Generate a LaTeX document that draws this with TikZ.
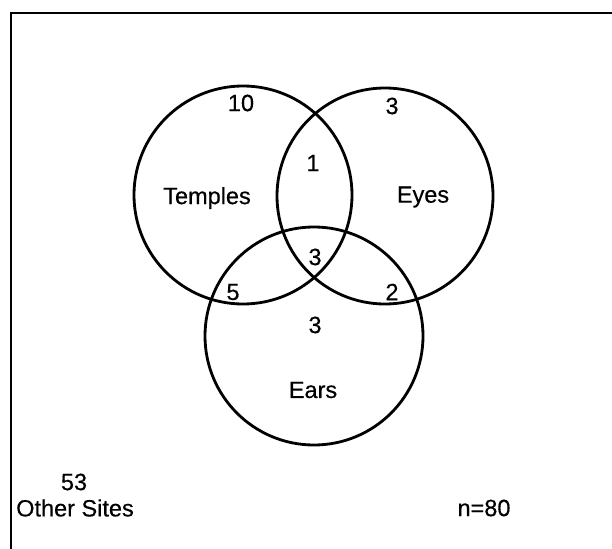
\documentclass[tikz,border=0pt]{standalone}
\usepackage{fontspec}
\setmainfont{Liberation Sans}[FakeBold=0.4]
\usepackage{tikz}
\tikzset{every node/.append style={font=\fontsize{23.5}{27}\selectfont}}

\begin{document}
\begin{tikzpicture}[x=1pt, y=-1pt, line width=2.8pt]
    \useasboundingbox (0,0) rectangle (612,548);
    \draw (615,13) -- (11,13) -- (11,551);
    \coordinate (T) at (243,195);
    \coordinate (E) at (385,196);
    \coordinate (A) at (314,336);
    \draw (T) circle (109);
    \draw (E) circle (108);
    \draw (A) circle (109);
    \node (temples) at (207,198) {Temples};
    \node (eyes) at (423,197) {Eyes};
    \node (ears) at (313,390) {Ears};
    \node (nT) at (241,103) {10};
    \node (nE) at (392,106) {3};
    \node (nTE) at (313,163) {1};
    \node (nTEA) at (315,257) {3};
    \node (nTA) at (233,292) {5};
    \node (nEA) at (392,292) {2};
    \node (nA) at (315,325) {3};
    \node (nO) at (74,482) {53};
    \node (other) at (75,508) {Other Sites};
    \node (n) at (484,508) {n=80};
\end{tikzpicture}
\end{document}
